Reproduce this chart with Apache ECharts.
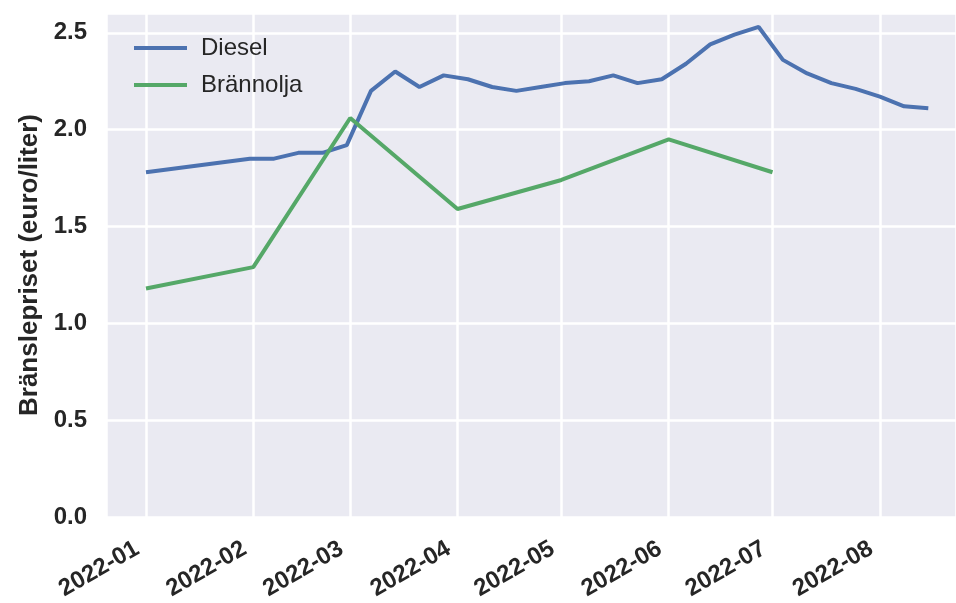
<!DOCTYPE html>
<html>
<head>
<meta charset="utf-8">
<script src="https://cdn.jsdelivr.net/npm/echarts@6/dist/echarts.min.js"></script>
<style>
html,body{margin:0;padding:0;background:#fff;}
#chart{width:956px;height:603px;}
</style>
</head>
<body>
<div id="chart"></div>
<script>
// Data
const dieselDates = ['2022-01-01','2022-01-31','2022-02-07','2022-02-14','2022-02-21','2022-02-28',
  '2022-03-07','2022-03-14','2022-03-21','2022-03-28','2022-04-04','2022-04-11','2022-04-18','2022-04-25',
  '2022-05-02','2022-05-09','2022-05-16','2022-05-23','2022-05-30','2022-06-06','2022-06-13','2022-06-20',
  '2022-06-27','2022-07-04','2022-07-11','2022-07-18','2022-07-25','2022-08-01','2022-08-08','2022-08-15'];
const dieselValues = [1.78,1.85,1.85,1.88,1.88,1.92,
  2.20,2.30,2.22,2.28,2.26,2.22,2.20,2.22,
  2.24,2.25,2.28,2.24,2.26,2.34,2.44,2.49,
  2.53,2.36,2.29,2.24,2.21,2.17,2.12,2.11];
const oilDates = ['2022-01-01','2022-02-01','2022-03-01','2022-04-01','2022-05-01','2022-06-01','2022-07-01'];
const oilValues = [1.18,1.29,2.06,1.59,1.74,1.95,1.78];
const seriesNames = ['Diesel','Brännolja'];
const yAxisTitle = 'Bränslepriset (euro/liter)';

const DAY = 86400000;
const jan1 = new Date(2022,0,1).getTime();
const xMin = jan1 - 11.55*DAY;
const xMax = jan1 + 234*DAY;

const font = '"Liberation Sans", Arial, Helvetica, sans-serif';
const textColor = '#262626';
const colors = ['#4C72B0','#55A868'];

const chart = echarts.init(document.getElementById('chart'), null, {renderer:'canvas'});
chart.setOption({
  animation:false,
  backgroundColor:'#ffffff',
  grid:{left:106,right:0,top:13,bottom:86,show:true,backgroundColor:'#EAEAF2',borderWidth:0},
  legend:{
    orient:'vertical', left:129, top:31, itemWidth:53, itemHeight:4, itemGap:13,
    icon:'rect',
    textStyle:{fontFamily:font,fontSize:24,color:textColor,lineHeight:24,padding:[0,0,0,9]},
    data:seriesNames
  },
  xAxis:{
    type:'time', min:xMin, max:xMax, splitNumber:9,
    minInterval:28*DAY, maxInterval:31*DAY,
    axisLine:{show:false}, axisTick:{show:false},
    splitLine:{show:true,lineStyle:{color:'#ffffff',width:2.5}},
    axisLabel:{
      rotate:30, margin:25, padding:[0,10,0,0], fontFamily:font, fontSize:24, fontWeight:'bold', color:textColor,
      showMinLabel:false, showMaxLabel:false, hideOverlap:false,
      formatter:function(v){const d=new Date(v);return d.getFullYear()+'-'+String(d.getMonth()+1).padStart(2,'0');}
    }
  },
  yAxis:{
    type:'value', min:0, max:2.602, interval:0.5,
    name:yAxisTitle, nameLocation:'middle', nameGap:63, nameRotate:90,
    nameTextStyle:{fontFamily:font,fontSize:26,fontWeight:'bold',color:textColor},
    axisLine:{show:false}, axisTick:{show:false},
    splitLine:{show:true,lineStyle:{color:'#ffffff',width:2.5}},
    axisLabel:{margin:19,fontFamily:font,fontSize:24,fontWeight:'bold',color:textColor,showMaxLabel:false,
      formatter:function(v){return v.toFixed(1);}}
  },
  series:[
    {name:seriesNames[0],type:'line',symbol:'none',showSymbol:false,lineStyle:{color:colors[0],width:4},itemStyle:{color:colors[0]},
     data:dieselDates.map((d,i)=>[d,dieselValues[i]])},
    {name:seriesNames[1],type:'line',symbol:'none',showSymbol:false,lineStyle:{color:colors[1],width:4},itemStyle:{color:colors[1]},
     data:oilDates.map((d,i)=>[d,oilValues[i]])}
  ]
});
</script>
</body>
</html>
